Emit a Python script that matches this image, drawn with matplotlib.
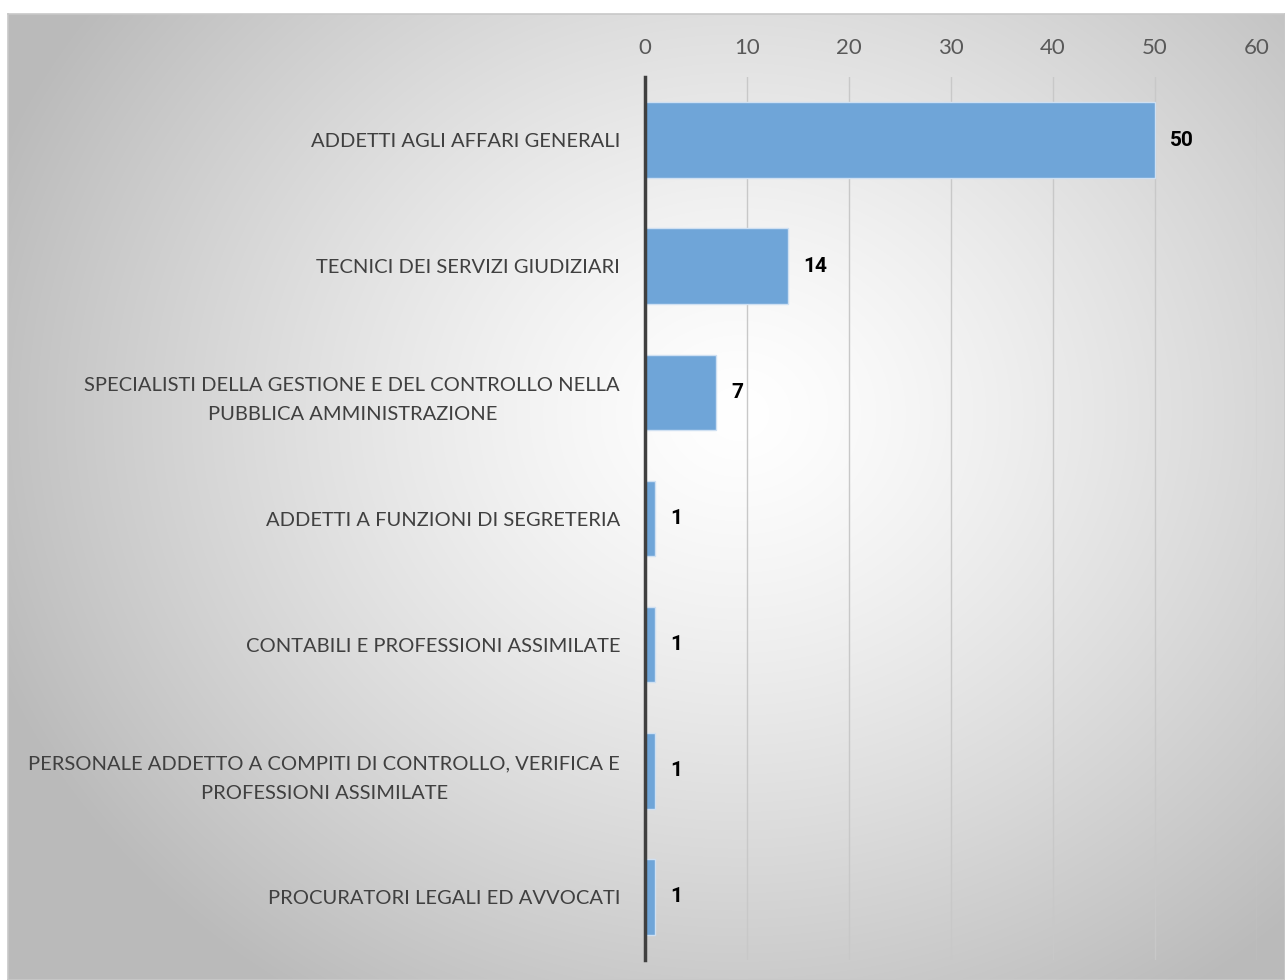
import numpy as np
import matplotlib.pyplot as plt

categorie = [
    "ADDETTI AGLI AFFARI GENERALI",
    "TECNICI DEI SERVIZI GIUDIZIARI",
    "SPECIALISTI DELLA GESTIONE E DEL CONTROLLO NELLA\nPUBBLICA AMMINISTRAZIONE",
    "ADDETTI A FUNZIONI DI SEGRETERIA",
    "CONTABILI E PROFESSIONI ASSIMILATE",
    "PERSONALE ADDETTO A COMPITI DI CONTROLLO, VERIFICA E\nPROFESSIONI ASSIMILATE",
    "PROCURATORI LEGALI ED AVVOCATI",
]
valori = [50, 14, 7, 1, 1, 1, 1]
tick_x = [0, 10, 20, 30, 40, 50, 60]

plt.rcParams['font.family'] = ['Lato', 'DejaVu Sans']

fig = plt.figure(figsize=(12.85, 9.8), dpi=100)

# sfondo con sfumatura radiale, chiaro al centro e grigio ai bordi
bg = fig.add_axes([8 / 1285, 0, 1 - 8 / 1285, 1 - 14 / 980])
h, w = 966, 1277
yy, xx = np.mgrid[0:h, 0:w]
cx, cy = 730, 400
d = np.sqrt(((xx - cx) / 800.0) ** 2 + ((yy - cy) / 700.0) ** 2)
d = np.clip(d, 0, 1)
grey = 1.0 - 0.27 * d ** 1.3
img = np.dstack([grey, grey, grey])
bg.imshow(img, aspect='auto', extent=[0, 1, 0, 1], origin='upper')
bg.set_xticks([])
bg.set_yticks([])
for s in bg.spines.values():
    s.set_color('#c8c8c8')
    s.set_linewidth(1.2)
bg.set_zorder(0)

ax = fig.add_axes([645 / 1285, 1 - 960 / 980, (1257 - 645) / 1285, (960 - 77) / 980])
ax.set_facecolor('none')
ax.set_zorder(1)

y = np.arange(len(categorie))
bars = ax.barh(y, valori, height=0.6, color='#6fa5d8', edgecolor='#cfe0f2',
               linewidth=1, zorder=3)

for b, v in zip(bars, valori):
    ax.text(b.get_width() + 1.5, b.get_y() + b.get_height() / 2, str(v),
            va='center', ha='left', fontsize=15, fontweight='bold', color='black',
            family=['Roboto', 'DejaVu Sans'])

ax.set_xlim(0, 60)
ax.set_ylim(len(categorie) - 0.5, -0.5)
ax.set_xticks(tick_x)
ax.xaxis.tick_top()
ax.tick_params(axis='x', length=0, pad=14, labelsize=16, labelcolor='#595959')
ax.set_yticks(y)
ax.set_yticklabels(categorie, multialignment='center', linespacing=1.9)
ax.tick_params(axis='y', length=0, pad=18, labelsize=14.5, labelcolor='#404040')
ax.grid(axis='x', color='#c8c8c8', linewidth=1, zorder=0)
for s in ['top', 'right', 'bottom']:
    ax.spines[s].set_visible(False)
ax.spines['left'].set_color('#404040')
ax.spines['left'].set_linewidth(2.5)
ax.spines['left'].set_zorder(4)

fig.savefig('out.png', dpi=100)
